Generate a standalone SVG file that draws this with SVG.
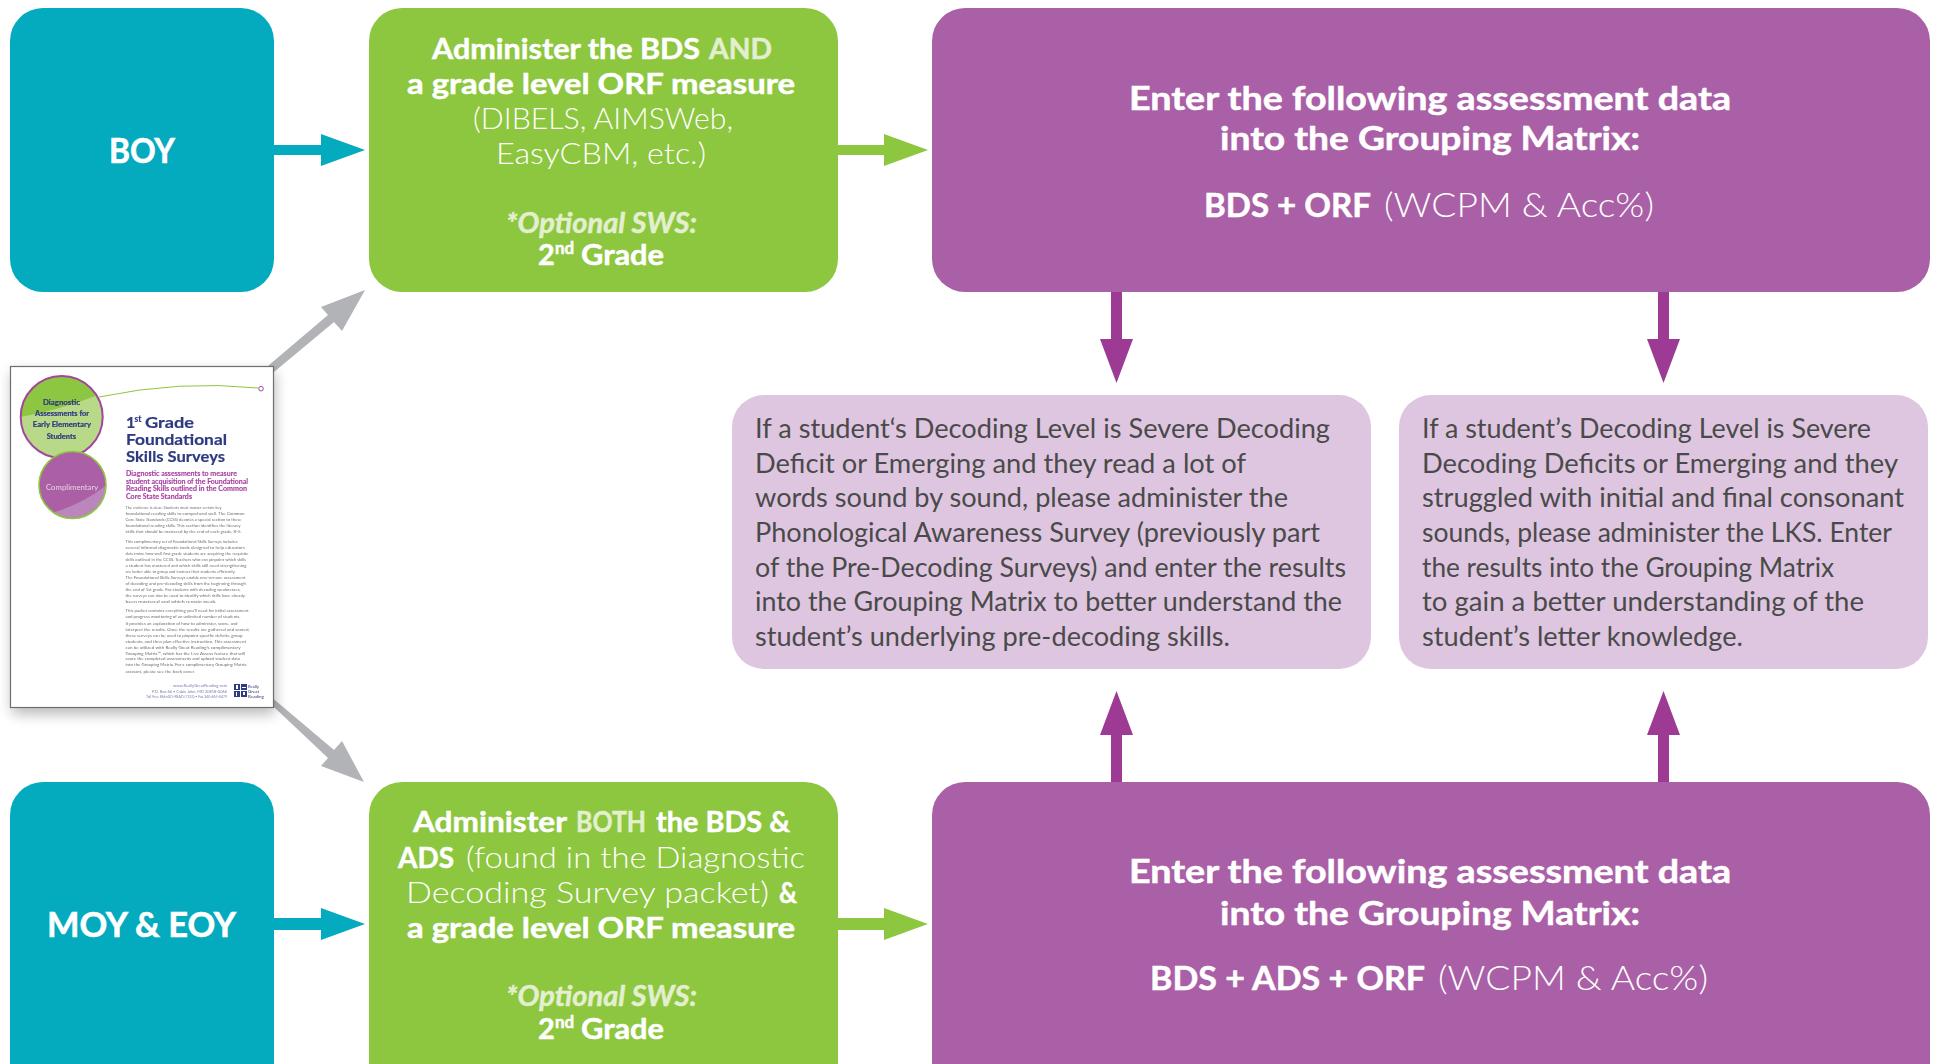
<svg xmlns="http://www.w3.org/2000/svg" width="1939" height="1064" viewBox="0 0 1939 1064">
<style>
text{font-family:"Lato","Liberation Sans",sans-serif;white-space:pre}
.w{fill:#fff}
.b{font-weight:700;stroke:#fff;stroke-width:.5px}
.l{font-weight:300}
.f{fill:#e3efcf;stroke:#e3efcf}
.g{font-size:29px}
.p{font-size:33px}
.s{font-size:27px;fill:#4a4a4a;font-weight:400}
.t{font-size:35px;font-weight:700;fill:#fff;stroke:#fff;stroke-width:.6px}
.teal{fill:#04aabd}.green{fill:#8dc63f}.pur{fill:#aa60a6}.lav{fill:#dec6e0}
.ap{fill:#9c3a94}.ag{fill:#b1b3b6}
.dt{font-size:4.4px;fill:#6d6e71}
.nv{fill:#2e3a80;font-weight:700;stroke:#2e3a80;stroke-width:.2px}
.sb{font-size:7.2px;fill:#a53fa0;font-weight:700;stroke:#a53fa0;stroke-width:.12px}
.ft{font-size:4.2px;fill:#7a7fb0}
</style>
<defs>
<filter id="sh" x="-20%" y="-20%" width="140%" height="140%"><feGaussianBlur stdDeviation="7"/></filter>
<filter id="soft"><feGaussianBlur stdDeviation="0.3"/></filter>
<clipPath id="c1"><circle cx="61.7" cy="417" r="41"/></clipPath>
<clipPath id="c2"><circle cx="72.5" cy="485" r="33.5"/></clipPath>
</defs>
<rect width="1939" height="1064" fill="#fff"/>
<g id="connectors">
<path class="teal" d="M274,145H321V134L365,150L321,166V155H274Z"/>
<path class="green" d="M838,145H884V134L928,150L884,166V155H838Z"/>
<path class="teal" d="M274,918H321V908L365,924L321,940V930H274Z"/>
<path class="green" d="M838,918H884V908L928,924L884,940V930H838Z"/>
<path class="ap" d="M1111,292H1122V339H1133L1116.500,383L1100,339H1111Z"/>
<path class="ap" d="M1658,292H1669V339H1680L1663.500,383L1647,339H1658Z"/>
<path class="ap" d="M1111,782H1122V735H1133L1116.500,691L1100,735H1111Z"/>
<path class="ap" d="M1658,782H1669V735H1680L1663.500,691L1647,735H1658Z"/>
<path class="ag" d="M262,371L328,315L321,307L365,290L342,331L334,322L274,372L262,382Z"/>
<path class="ag" d="M263,690L334,750L342,741L364,782L321,766L328,758L275,708L265,698Z"/>
</g>
<g id="boy"><rect class="teal" x="10" y="8" width="264" height="284" rx="33"/>
<text class="t" x="109" y="163" textLength="66" lengthAdjust="spacingAndGlyphs">BOY</text></g>
<g id="moy"><rect class="teal" x="10" y="782" width="264" height="320" rx="33"/>
<text class="t" x="47" y="937" textLength="189" lengthAdjust="spacingAndGlyphs">MOY &amp; EOY</text></g>
<g id="admin-top"><rect class="green" x="369" y="8" width="469" height="284" rx="33"/>
<text class="g b w" y="59"><tspan x="432" textLength="268" lengthAdjust="spacingAndGlyphs">Administer the BDS</tspan><tspan class="f" x="709" textLength="63" lengthAdjust="spacingAndGlyphs">AND</tspan></text>
<text class="g b w" x="407" y="94" textLength="388" lengthAdjust="spacingAndGlyphs">a grade level ORF measure</text>
<text class="g l w" x="473" y="129" textLength="260" lengthAdjust="spacingAndGlyphs">(DIBELS, AIMSWeb,</text>
<text class="g l w" x="496" y="164" textLength="210" lengthAdjust="spacingAndGlyphs">EasyCBM, etc.)</text>
<text class="g b f" x="506" y="233" font-style="italic" textLength="191" lengthAdjust="spacingAndGlyphs">*Optional SWS:</text>
<text class="g b w" y="265"><tspan x="538">2</tspan><tspan x="555" dy="-11" font-size="17">nd</tspan><tspan x="581" dy="11" textLength="83" lengthAdjust="spacingAndGlyphs">Grade</tspan></text></g>
<g id="admin-bottom"><rect class="green" x="369" y="782" width="469" height="320" rx="33"/>
<text class="g b w" y="832"><tspan x="413" textLength="154" lengthAdjust="spacingAndGlyphs">Administer</tspan><tspan class="f" x="576" textLength="70" lengthAdjust="spacingAndGlyphs">BOTH</tspan><tspan x="656" textLength="134" lengthAdjust="spacingAndGlyphs">the BDS &amp;</tspan></text>
<text class="g w" y="867.500"><tspan class="b" x="398" textLength="56" lengthAdjust="spacingAndGlyphs">ADS</tspan><tspan class="l" x="466" textLength="339" lengthAdjust="spacingAndGlyphs">(found in the Diagnostic</tspan></text>
<text class="g w" y="903"><tspan class="l" x="406" textLength="363" lengthAdjust="spacingAndGlyphs">Decoding Survey packet)</tspan><tspan class="b" x="779" textLength="18" lengthAdjust="spacingAndGlyphs">&amp;</tspan></text>
<text class="g b w" x="407" y="938" textLength="388" lengthAdjust="spacingAndGlyphs">a grade level ORF measure</text>
<text class="g b f" x="506" y="1006" font-style="italic" textLength="191" lengthAdjust="spacingAndGlyphs">*Optional SWS:</text>
<text class="g b w" y="1039"><tspan x="538">2</tspan><tspan x="555" dy="-11" font-size="17">nd</tspan><tspan x="581" dy="11" textLength="83" lengthAdjust="spacingAndGlyphs">Grade</tspan></text></g>
<g id="enter-top"><rect class="pur" x="932" y="8" width="998" height="284" rx="33"/>
<text class="p b w" x="1129" y="110" textLength="602" lengthAdjust="spacingAndGlyphs">Enter the following assessment data</text>
<text class="p b w" x="1220" y="150" textLength="420" lengthAdjust="spacingAndGlyphs">into the Grouping Matrix:</text>
<text class="p w" y="217"><tspan class="b" x="1204" textLength="167" lengthAdjust="spacingAndGlyphs">BDS + ORF</tspan><tspan class="l" x="1384" textLength="270" lengthAdjust="spacingAndGlyphs">(WCPM &amp; Acc%)</tspan></text></g>
<g id="enter-bottom"><rect class="pur" x="932" y="782" width="998" height="320" rx="33"/>
<text class="p b w" x="1129" y="883" textLength="602" lengthAdjust="spacingAndGlyphs">Enter the following assessment data</text>
<text class="p b w" x="1220" y="925" textLength="420" lengthAdjust="spacingAndGlyphs">into the Grouping Matrix:</text>
<text class="p w" y="990"><tspan class="b" x="1150" textLength="275" lengthAdjust="spacingAndGlyphs">BDS + ADS + ORF</tspan><tspan class="l" x="1438" textLength="270" lengthAdjust="spacingAndGlyphs">(WCPM &amp; Acc%)</tspan></text></g>
<g id="note-left"><rect class="lav" x="732" y="395" width="639" height="274" rx="32"/>
<text class="s" x="755" y="438" textLength="575" lengthAdjust="spacingAndGlyphs">If a student‘s Decoding Level is Severe Decoding</text>
<text class="s" x="755" y="473" textLength="491" lengthAdjust="spacingAndGlyphs">Deficit or Emerging and they read a lot of</text>
<text class="s" x="755" y="507" textLength="533" lengthAdjust="spacingAndGlyphs">words sound by sound, please administer the</text>
<text class="s" x="755" y="542" textLength="565" lengthAdjust="spacingAndGlyphs">Phonological Awareness Survey (previously part</text>
<text class="s" x="755" y="577" textLength="591" lengthAdjust="spacingAndGlyphs">of the Pre-Decoding Surveys) and enter the results</text>
<text class="s" x="755" y="611" textLength="587" lengthAdjust="spacingAndGlyphs">into the Grouping Matrix to better understand the</text>
<text class="s" x="755" y="646" textLength="475" lengthAdjust="spacingAndGlyphs">student’s underlying pre-decoding skills.</text></g>
<g id="note-right"><rect class="lav" x="1399" y="395" width="529" height="274" rx="32"/>
<text class="s" x="1422" y="438" textLength="449" lengthAdjust="spacingAndGlyphs">If a student’s Decoding Level is Severe</text>
<text class="s" x="1422" y="473" textLength="476" lengthAdjust="spacingAndGlyphs">Decoding Deficits or Emerging and they</text>
<text class="s" x="1422" y="507" textLength="482" lengthAdjust="spacingAndGlyphs">struggled with initial and final consonant</text>
<text class="s" x="1422" y="542" textLength="470" lengthAdjust="spacingAndGlyphs">sounds, please administer the LKS. Enter</text>
<text class="s" x="1422" y="577" textLength="412" lengthAdjust="spacingAndGlyphs">the results into the Grouping Matrix</text>
<text class="s" x="1422" y="611" textLength="442" lengthAdjust="spacingAndGlyphs">to gain a better understanding of the</text>
<text class="s" x="1422" y="646" textLength="321" lengthAdjust="spacingAndGlyphs">student’s letter knowledge.</text></g>
<g id="document">
<rect x="12" y="372" width="263" height="342" fill="#000" opacity="0.28" filter="url(#sh)"/>
<rect x="10.500" y="366.500" width="263" height="341" fill="#fff" stroke="#6d6e71" stroke-width="1.200"/>
<g filter="url(#soft)">
<path d="M99,397Q180,380 258,388" fill="none" stroke="#8dc63f" stroke-width="1"/>
<circle cx="261" cy="388.700" r="2.300" fill="#fff" stroke="#9d4a9e" stroke-width="1"/>
<circle cx="61.700" cy="417" r="41" fill="#b8d987"/>
<path clip-path="url(#c1)" d="M20,417Q60,410 98,395L110,370H20Z" fill="#8dc63f"/>
<circle cx="61.700" cy="417" r="41" fill="none" stroke="#a0479d" stroke-width="2"/>
<circle cx="72.500" cy="485" r="33.500" fill="#ab60a5"/>
<path clip-path="url(#c2)" d="M55,512Q85,503 108,484L110,525H50Z" fill="#bb86bb"/>
<circle cx="72.500" cy="485" r="33.500" fill="none" stroke="#8dc63f" stroke-width="1.600"/>
<text class="nv" font-size="6.800" x="43" y="405" textLength="37" lengthAdjust="spacingAndGlyphs">Diagnostic</text>
<text class="nv" font-size="6.800" x="35" y="415.700" textLength="54" lengthAdjust="spacingAndGlyphs">Assessments for</text>
<text class="nv" font-size="6.800" x="32.700" y="427" textLength="58.300" lengthAdjust="spacingAndGlyphs">Early Elementary</text>
<text class="nv" font-size="6.800" x="46.700" y="439" textLength="29.300" lengthAdjust="spacingAndGlyphs">Students</text>
<text font-size="7.500" fill="#e6d3e6" x="46" y="490" textLength="52.300" lengthAdjust="spacingAndGlyphs">Complimentary</text>
<text class="nv" font-size="16" y="428"><tspan x="126">1</tspan><tspan x="134.500" dy="-6" font-size="8.500">st</tspan><tspan x="145" dy="6" textLength="49" lengthAdjust="spacingAndGlyphs">Grade</tspan></text>
<text class="nv" font-size="16" x="126" y="445" textLength="101" lengthAdjust="spacingAndGlyphs">Foundational</text>
<text class="nv" font-size="16" x="126" y="462" textLength="99" lengthAdjust="spacingAndGlyphs">Skills Surveys</text>
<text class="sb" x="126" y="476" textLength="111" lengthAdjust="spacingAndGlyphs">Diagnostic assessments to measure</text>
<text class="sb" x="126" y="483.500" textLength="122" lengthAdjust="spacingAndGlyphs">student acquisition of the Foundational</text>
<text class="sb" x="126" y="491" textLength="121" lengthAdjust="spacingAndGlyphs">Reading Skills outlined in the Common</text>
<text class="sb" x="126" y="499" textLength="66" lengthAdjust="spacingAndGlyphs">Core State Standards</text>
<g class="body">
<text class="dt" x="125.500" y="508.500" textLength="96" lengthAdjust="spacingAndGlyphs">The evidence is clear. Students must master certain key</text>
<text class="dt" x="125.500" y="514.800" textLength="119" lengthAdjust="spacingAndGlyphs">foundational reading skills to comprehend well. The Common</text>
<text class="dt" x="125.500" y="520.800" textLength="116" lengthAdjust="spacingAndGlyphs">Core State Standards (CCSS) devotes a special section to these</text>
<text class="dt" x="125.500" y="526.500" textLength="115" lengthAdjust="spacingAndGlyphs">foundational reading skills. This section identifies the literacy</text>
<text class="dt" x="125.500" y="532.800" textLength="116" lengthAdjust="spacingAndGlyphs">skills that should be mastered by the end of each grade, K-5.</text>
<text class="dt" x="125.500" y="542.800" textLength="112" lengthAdjust="spacingAndGlyphs">This complimentary set of Foundational Skills Surveys includes</text>
<text class="dt" x="125.500" y="548.800" textLength="119.500" lengthAdjust="spacingAndGlyphs">several informal diagnostic tools designed to help educators</text>
<text class="dt" x="125.500" y="554.800" textLength="123" lengthAdjust="spacingAndGlyphs">determine how well first grade students are acquiring the requisite</text>
<text class="dt" x="125.500" y="560.800" textLength="120.500" lengthAdjust="spacingAndGlyphs">skills outlined in the CCSS. Teachers who can pinpoint which skills</text>
<text class="dt" x="125.500" y="566.500" textLength="121" lengthAdjust="spacingAndGlyphs">a student has mastered and which skills still need strengthening</text>
<text class="dt" x="125.500" y="572.500" textLength="110" lengthAdjust="spacingAndGlyphs">are better able to group and instruct their students efficiently.</text>
<text class="dt" x="125.500" y="578.500" textLength="120" lengthAdjust="spacingAndGlyphs">The Foundational Skills Surveys enable one-on-one assessment</text>
<text class="dt" x="125.500" y="584.800" textLength="120.500" lengthAdjust="spacingAndGlyphs">of decoding and pre-decoding skills from the beginning through</text>
<text class="dt" x="125.500" y="590.800" textLength="115" lengthAdjust="spacingAndGlyphs">the end of 1st grade. For students with decoding weaknesses,</text>
<text class="dt" x="125.500" y="596.800" textLength="119.500" lengthAdjust="spacingAndGlyphs">the surveys can also be used to identify which skills have already</text>
<text class="dt" x="125.500" y="602.800" textLength="91" lengthAdjust="spacingAndGlyphs">been mastered and which remain weak.</text>
<text class="dt" x="125.500" y="612.200" textLength="123" lengthAdjust="spacingAndGlyphs">This packet contains everything you’ll need for initial assessment</text>
<text class="dt" x="125.500" y="618.200" textLength="115" lengthAdjust="spacingAndGlyphs">and progress monitoring of an unlimited number of students.</text>
<text class="dt" x="125.500" y="625.200" textLength="112" lengthAdjust="spacingAndGlyphs">It provides an explanation of how to administer, score, and</text>
<text class="dt" x="125.500" y="630.800" textLength="124" lengthAdjust="spacingAndGlyphs">interpret the results. Once the results are gathered and scored,</text>
<text class="dt" x="125.500" y="637.200" textLength="117" lengthAdjust="spacingAndGlyphs">these surveys can be used to pinpoint specific deficits, group</text>
<text class="dt" x="125.500" y="642.500" textLength="120.500" lengthAdjust="spacingAndGlyphs">students, and then plan effective instruction. This assessment</text>
<text class="dt" x="125.500" y="648.500" textLength="115" lengthAdjust="spacingAndGlyphs">can be utilized with Really Great Reading’s complimentary</text>
<text class="dt" x="125.500" y="654.500" textLength="119.500" lengthAdjust="spacingAndGlyphs">Grouping Matrix™, which has the Live Assess feature that will</text>
<text class="dt" x="125.500" y="660.200" textLength="114.500" lengthAdjust="spacingAndGlyphs">score the completed assessments and upload student data</text>
<text class="dt" x="125.500" y="666.200" textLength="121" lengthAdjust="spacingAndGlyphs">into the Grouping Matrix. For a complimentary Grouping Matrix</text>
<text class="dt" x="125.500" y="672.800" textLength="69.500" lengthAdjust="spacingAndGlyphs">account, please see the back cover.</text>
</g>
<text class="ft" x="173" y="687" textLength="54" lengthAdjust="spacingAndGlyphs">www.ReallyGreatReading.com</text>
<text class="ft" x="152" y="692.500" textLength="75" lengthAdjust="spacingAndGlyphs">P.O. Box 66 • Cabin John, MD 20818-0066</text>
<text class="ft" x="146" y="697.500" textLength="81" lengthAdjust="spacingAndGlyphs">Toll Free 866-401-READ (7323) • Fax 240-465-0479</text>
<path fill="#2e3a80" d="M234,684h6v6h-6ZM241,684h6v6h-6ZM234,691h6v6h-6ZM241,691h6v6h-6Z"/>
<path fill="#fff" d="M236,685h2v4h-2ZM242,687h4v1h-4ZM236,692h1v4h-1ZM243,692h2v3h-2Z"/>
<text font-size="4.300" fill="#2e3a80" x="248" y="688" textLength="11" lengthAdjust="spacingAndGlyphs">Really</text>
<text font-size="4.300" fill="#2e3a80" x="248" y="693" textLength="11" lengthAdjust="spacingAndGlyphs">Great</text>
<text font-size="4.300" fill="#2e3a80" x="248" y="697.500" textLength="16" lengthAdjust="spacingAndGlyphs">Reading</text>
</g>
</g>
</svg>
